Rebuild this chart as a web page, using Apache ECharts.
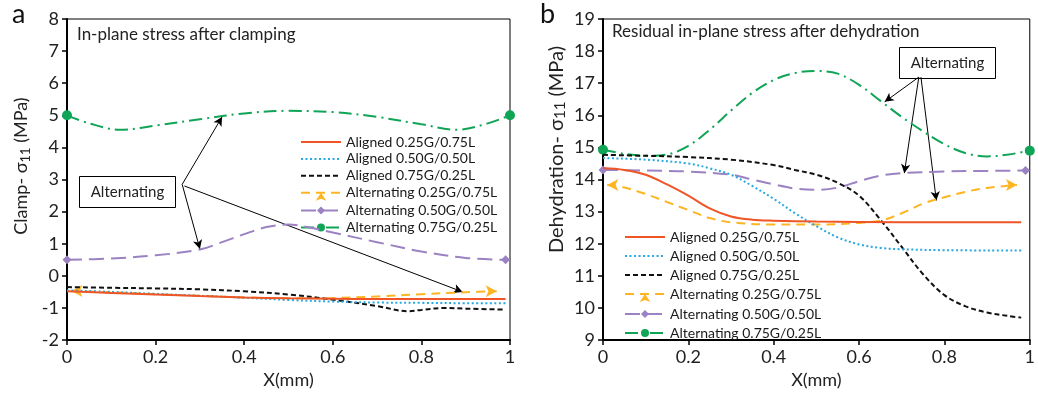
<!DOCTYPE html>
<html>
<head>
<meta charset="utf-8">
<script src="https://cdn.jsdelivr.net/npm/echarts@6/dist/echarts.min.js"></script>
<style>
  html, body { margin: 0; padding: 0; background: #fff; }
  #chart { width: 1038px; height: 394px; }
</style>
</head>
<body>
<div id="chart"></div>
<script>
// legend names
const names = [
  'Aligned 0.25G/0.75L',
  'Aligned 0.50G/0.50L',
  'Aligned 0.75G/0.25L',
  'Alternating 0.25G/0.75L',
  'Alternating 0.50G/0.50L',
  'Alternating 0.75G/0.25L'
]

// (a) clamping, [x, stress]
const clampAligned25 = [[0,-0.48],[0.1,-0.53],[0.2,-0.58],[0.3,-0.63],[0.4,-0.67],[0.5,-0.7],[0.6,-0.71],[0.7,-0.72],[0.8,-0.72],[0.9,-0.72],[0.99,-0.72]]
const clampAligned50 = [[0,-0.45],[0.1,-0.5],[0.2,-0.56],[0.3,-0.62],[0.4,-0.68],[0.5,-0.75],[0.6,-0.8],[0.7,-0.83],[0.8,-0.84],[0.9,-0.85],[0.99,-0.85]]
const clampAligned75 = [[0,-0.35],[0.1,-0.37],[0.2,-0.39],[0.3,-0.42],[0.4,-0.48],[0.5,-0.58],[0.6,-0.74],[0.7,-0.94],[0.77,-1.1],[0.8,-1.06],[0.85,-1.0],[0.9,-1.02],[0.99,-1.05]]
const clampAlt25 = [[0.01,-0.47],[0.1,-0.51],[0.2,-0.57],[0.3,-0.62],[0.4,-0.67],[0.5,-0.7],[0.6,-0.69],[0.7,-0.64],[0.8,-0.57],[0.9,-0.51],[0.97,-0.48]]
const clampAlt50 = [[0,0.5],[0.1,0.54],[0.2,0.64],[0.3,0.82],[0.35,1.05],[0.4,1.3],[0.45,1.52],[0.5,1.6],[0.55,1.5],[0.6,1.35],[0.7,1.05],[0.8,0.76],[0.9,0.56],[0.99,0.5]]
const clampAlt75 = [[0,5.0],[0.05,4.75],[0.12,4.55],[0.2,4.68],[0.3,4.88],[0.4,5.06],[0.5,5.14],[0.6,5.1],[0.7,4.95],[0.8,4.72],[0.88,4.55],[0.95,4.75],[1,5.0]]

// (b) dehydration, [x, stress]
const dehyAligned25 = [[0,14.36],[0.05,14.3],[0.1,14.15],[0.15,13.85],[0.2,13.5],[0.25,13.1],[0.3,12.85],[0.35,12.75],[0.4,12.72],[0.5,12.69],[0.6,12.68],[0.8,12.67],[0.98,12.67]]
const dehyAligned50 = [[0,14.67],[0.1,14.62],[0.2,14.5],[0.25,14.35],[0.3,14.15],[0.35,13.8],[0.4,13.4],[0.45,12.95],[0.5,12.55],[0.55,12.2],[0.6,11.98],[0.65,11.87],[0.7,11.83],[0.8,11.8],[0.98,11.79]]
const dehyAligned75 = [[0,14.77],[0.1,14.74],[0.2,14.7],[0.3,14.62],[0.4,14.45],[0.45,14.3],[0.5,14.15],[0.55,13.9],[0.6,13.5],[0.65,12.75],[0.7,11.9],[0.75,11.05],[0.8,10.4],[0.85,10.05],[0.9,9.86],[0.95,9.75],[0.98,9.7]]
const dehyAlt25 = [[0.01,13.83],[0.05,13.75],[0.1,13.55],[0.15,13.3],[0.2,13.05],[0.25,12.8],[0.3,12.67],[0.4,12.6],[0.5,12.6],[0.6,12.65],[0.65,12.72],[0.7,12.95],[0.75,13.25],[0.8,13.45],[0.85,13.62],[0.9,13.74],[0.97,13.83]]
const dehyAlt50 = [[0,14.3],[0.1,14.28],[0.2,14.25],[0.3,14.15],[0.35,14.0],[0.4,13.85],[0.45,13.72],[0.5,13.68],[0.55,13.75],[0.6,13.95],[0.65,14.12],[0.7,14.2],[0.8,14.25],[0.9,14.27],[0.99,14.28]]
const dehyAlt75 = [[0,14.93],[0.05,14.8],[0.1,14.74],[0.15,14.78],[0.2,15.05],[0.25,15.55],[0.3,16.15],[0.35,16.7],[0.4,17.1],[0.45,17.32],[0.5,17.38],[0.55,17.3],[0.6,16.95],[0.65,16.45],[0.7,15.95],[0.75,15.5],[0.8,15.1],[0.85,14.82],[0.9,14.72],[0.95,14.78],[1.0,14.9]]

// "Alternating" callout arrows, [from, to] in data units
const clampArrows = [[[0.26,2.85],[0.35,4.95]],[[0.26,2.85],[0.3,0.84]],[[0.265,2.8],[0.893,-0.5]]]
const dehyArrows = [[[0.74,17.19],[0.66,16.42]],[[0.74,17.19],[0.706,14.2]],[[0.745,17.19],[0.781,13.35]]]

const FONT = 'Lato'
const colors = ['#EF5527', '#27A9E1', '#111111', '#FDB523', '#9B82C2', '#10A556']
const dashes = ['solid', [2, 2.5], [5, 3], [9, 6], [15, 7], [13, 5, 2, 5]]
const symbols = ['none', 'none', 'none', 'arrow', 'diamond', 'circle']
const symbolSizes = [0, 0, 0, [9, 11], 9, 10]

// markers only on both ends of the alternating curves
const ends = (pts, i) => pts.map((p, k) => {
  const first = k === 0
  const last = k === pts.length - 1
  if (!first && !last) return { value: p, symbol: 'none' }
  if (i === 3) return { value: p, symbolRotate: first ? 90 : -90 }
  return { value: p }
})

const makeSeries = (list, axis, arrows) => list.map((pts, i) => {
  const s = {
    name: names[i],
    type: 'line',
    xAxisIndex: axis,
    yAxisIndex: axis,
    smooth: 0.35,
    symbol: symbols[i],
    symbolSize: symbolSizes[i],
    showSymbol: i >= 3,
    showAllSymbol: true,
    z: 10 - i,
    lineStyle: { color: colors[i], width: 2, type: dashes[i] },
    itemStyle: { color: colors[i] },
    data: i >= 3 ? ends(pts, i) : pts
  }
  if (i === 5) {
    s.markLine = {
      silent: true,
      animation: false,
      symbol: ['none', 'arrow'],
      symbolSize: [7, 9],
      label: { show: false },
      lineStyle: { color: '#000', width: 1, type: 'solid' },
      data: arrows.map(a => [{ coord: a[0] }, { coord: a[1] }])
    }
  }
  return s
})

const axisText = { color: '#222', fontFamily: FONT, fontSize: 18 }

const xAxisCfg = (idx) => ({
  type: 'value',
  gridIndex: idx,
  min: 0, max: 1, interval: 0.2,
  name: 'X(mm)',
  nameLocation: 'middle',
  nameGap: 29,
  nameTextStyle: { color: '#222', fontFamily: FONT, fontSize: 18 },
  axisLine: { onZero: false, lineStyle: { color: '#000', width: 2 } },
  axisTick: { length: 5, lineStyle: { color: '#000', width: 1.5 } },
  axisLabel: Object.assign({ margin: 8 }, axisText),
  splitLine: { show: false }
})

const yAxisCfg = (idx, min, max, label, size, shift) => ({
  type: 'value',
  gridIndex: idx,
  min: min, max: max, interval: 1,
  name: '{t|' + label + '- σ}{s|11}{t| (MPa)}',
  nameLocation: 'middle',
  nameGap: 35,
  nameTextStyle: {
    fontFamily: FONT,
    padding: [0, 0, 0, shift],
    rich: {
      t: { fontSize: size, color: '#222', fontFamily: FONT },
      s: { fontSize: size - 5, color: '#222', fontFamily: FONT, verticalAlign: 'bottom', padding: [8, 0, 0, 0] }
    }
  },
  axisLine: { onZero: false, lineStyle: { color: '#000', width: 2 } },
  axisTick: { length: 5, lineStyle: { color: '#000', width: 1.5 } },
  axisLabel: Object.assign({ margin: 8 }, axisText),
  splitLine: { show: false }
})

// aligned entries: hide the marker the legend would add on a plain line
const legendData = names.map((n, i) => i < 3 ? { name: n, itemStyle: { opacity: 0 } } : { name: n })

const legendCfg = (left, top, gap) => ({
  left: left,
  top: top,
  orient: 'vertical',
  itemWidth: 40,
  itemHeight: 10,
  itemGap: gap,
  selectedMode: false,
  textStyle: { color: '#1a1a1a', fontFamily: FONT, fontSize: 14, lineHeight: 14, padding: [0, 0, 0, 0] },
  data: legendData
})

const calloutBox = (x, y) => ({
  type: 'group',
  left: x,
  top: y,
  children: [
    { type: 'rect', shape: { x: 0, y: 0, width: 96, height: 31 }, style: { fill: '#fff', stroke: '#000', lineWidth: 1 } },
    { type: 'text', x: 48, y: 16, style: { text: 'Alternating', fill: '#222', font: '15px ' + FONT, align: 'center', verticalAlign: 'middle' } }
  ]
})

const option = {
  backgroundColor: '#fff',
  animation: false,
  grid: [
    { left: 67, right: 528, top: 19, bottom: 51, show: true, borderColor: '#000', borderWidth: 1 },
    { left: 603, right: 2, top: 19, bottom: 51, show: true, borderColor: '#000', borderWidth: 1 }
  ],
  xAxis: [xAxisCfg(0), xAxisCfg(1)],
  yAxis: [yAxisCfg(0, -2, 8, 'Clamp', 18, 27), yAxisCfg(1, 9, 19, 'Dehydration', 20, 60)],
  legend: [legendCfg(295, 130, 2.9), legendCfg(619, 225, 5)],
  series: [
    ...makeSeries([clampAligned25, clampAligned50, clampAligned75, clampAlt25, clampAlt50, clampAlt75], 0, clampArrows),
    ...makeSeries([dehyAligned25, dehyAligned50, dehyAligned75, dehyAlt25, dehyAlt50, dehyAlt75], 1, dehyArrows)
  ],
  graphic: [
    { type: 'text', left: 12, top: 1, style: { text: 'a', fill: '#111', font: '27px ' + FONT } },
    { type: 'text', left: 540, top: 1, style: { text: 'b', fill: '#111', font: '27px ' + FONT } },
    { type: 'text', left: 77, top: 26, style: { text: 'In-plane stress after clamping', fill: '#222', font: '17px ' + FONT } },
    { type: 'text', left: 612, top: 23, style: { text: 'Residual in-plane stress after dehydration', fill: '#222', font: '17px ' + FONT } },
    calloutBox(79, 176),
    calloutBox(899, 47)
  ]
}

const chart = echarts.init(document.getElementById('chart'), null, { renderer: 'canvas' })
chart.setOption(option)
</script>
</body>
</html>
